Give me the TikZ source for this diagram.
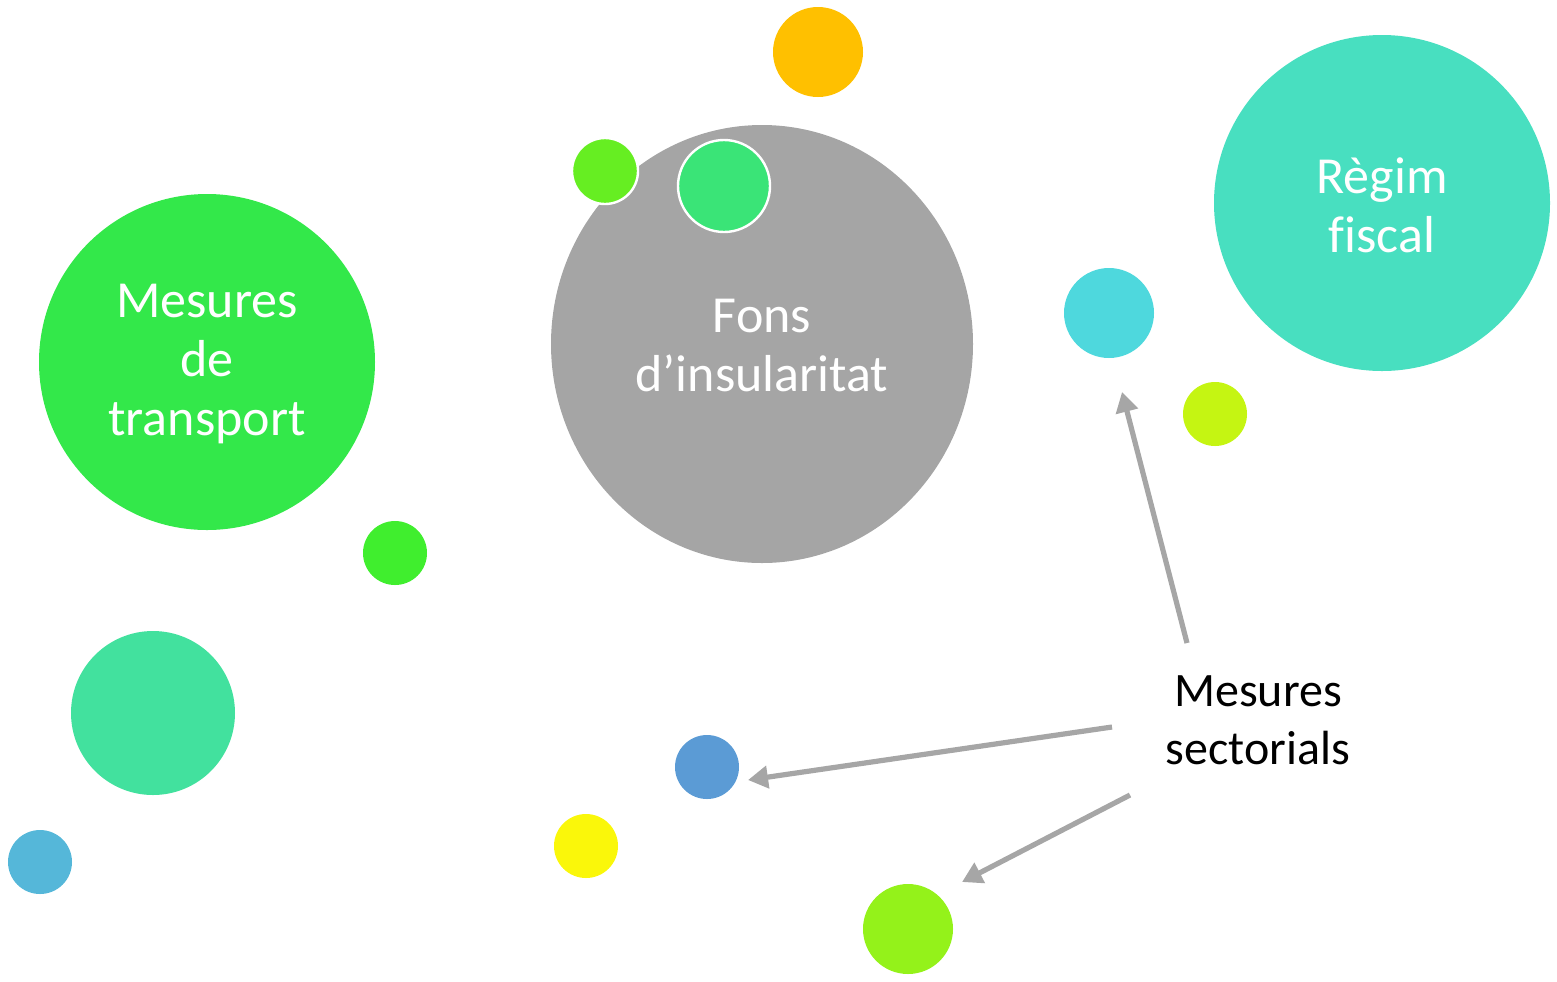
\documentclass[tikz,border=0pt]{standalone}
\usepackage{fontspec}
\setmainfont{Carlito}[Ligatures=NoCommon]
\usetikzlibrary{shapes.geometric,arrows.meta}
\definecolor{cOrange}{HTML}{FFC000}
\definecolor{cTealBig}{HTML}{48DFC0}
\definecolor{cGrey}{HTML}{A5A5A5}
\definecolor{cLime1}{HTML}{66EE22}
\definecolor{cMidGreen}{HTML}{3AE477}
\definecolor{cBigGreen}{HTML}{33E84A}
\definecolor{cSmGreen}{HTML}{40EE2E}
\definecolor{cTealMid}{HTML}{42E19E}
\definecolor{cBlueSm}{HTML}{55B7D9}
\definecolor{cCyan}{HTML}{4ED8DD}
\definecolor{cYelGreen}{HTML}{C5F512}
\definecolor{cBlue}{HTML}{5B9BD5}
\definecolor{cYellow}{HTML}{FAF70A}
\definecolor{cLime2}{HTML}{94F21A}
\definecolor{cArrow}{HTML}{A6A6A6}
\tikzset{
  bub/.style={circle, inner sep=0pt, minimum size=#1},
  wlabel/.style={text=white, align=center, font=\fontsize{26}{29.5}\selectfont},
  blabel/.style={text=black, align=center, font=\fontsize{24}{29}\selectfont},
  arr/.style={draw=cArrow, line width=2.6pt, -{Triangle[length=10pt,width=11pt]}},
}
\begin{document}
\begin{tikzpicture}[x=0.5pt,y=-0.5pt]
\useasboundingbox (0,0) rectangle (1557,981);
% bubbles
\node[bub=45pt, fill=cOrange] (orange) at (818,52) {};
\node[bub=168pt, fill=cTealBig] (regim) at (1382,203) {};
\node[ellipse, inner sep=0pt, minimum width=211pt, minimum height=219pt, fill=cGrey] (fons) at (762,344) {};
\node[bub=33pt, fill=cLime1, draw=white, line width=1.2pt] (lime1) at (605,171) {};
\node[bub=46pt, fill=cMidGreen, draw=white, line width=1.2pt] (midgreen) at (724,186) {};
\node[bub=168pt, fill=cBigGreen] (transport) at (207,362) {};
\node[bub=32pt, fill=cSmGreen] (smgreen) at (395,553) {};
\node[bub=82pt, fill=cTealMid] (tealmid) at (153,713) {};
\node[bub=32pt, fill=cBlueSm] (bluesm) at (40,862) {};
\node[bub=45pt, fill=cCyan] (cyan) at (1109,313) {};
\node[bub=32pt, fill=cYelGreen] (yelgreen) at (1215,414) {};
\node[bub=32pt, fill=cBlue] (blue) at (707,767) {};
\node[bub=32pt, fill=cYellow] (yellow) at (586,846) {};
\node[bub=45pt, fill=cLime2] (lime2) at (908,929) {};
% labels
\node[wlabel] (tTransport) at (207,364) {Mesures\\de\\transport};
\node[wlabel] (tFons) at (762,345) {Fons\\d’insularitat};
\node[wlabel] (tRegim) at (1382,205) {Règim\\fiscal};
\node[blabel] (sect) at (1258,720) {Mesures\\sectorials};
% arrow end points
\coordinate (s1) at (1187,643);
\coordinate (e1) at (1122,392);
\coordinate (s2) at (1112,727);
\coordinate (e2) at (748,780);
\coordinate (s3) at (1130,795);
\coordinate (e3) at (962,882);
\draw[arr] (s1) -- (e1);
\draw[arr] (s2) -- (e2);
\draw[arr] (s3) -- (e3);
\end{tikzpicture}
\end{document}
